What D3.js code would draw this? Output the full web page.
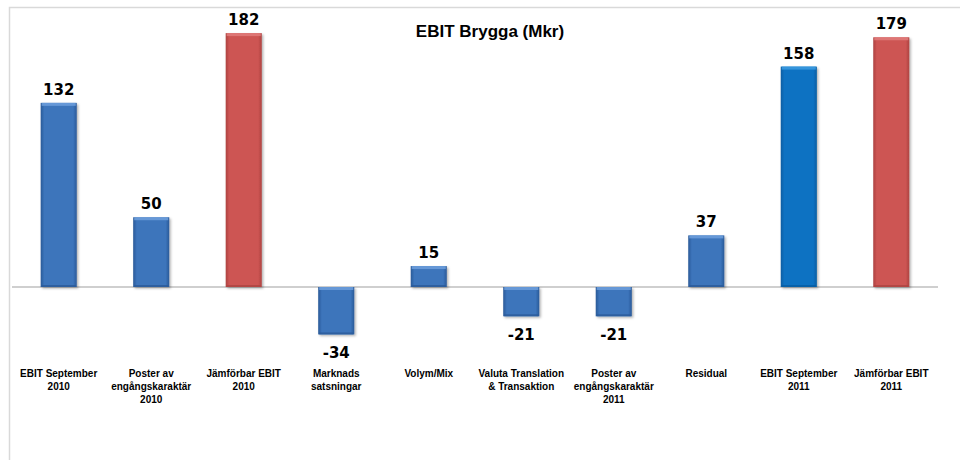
<!DOCTYPE html>
<html>
<head>
<meta charset="utf-8">
<script src="https://cdn.jsdelivr.net/npm/d3@7"></script>
<style>
  body { margin: 0; background: #fff; }
  svg { display: block; }
</style>
</head>
<body>
<svg id="chart" width="960" height="460"></svg>
<script>
// categories (line-wrapped as in the original)
const categories = [
  ["EBIT September", "2010"],
  ["Poster av", "engångskaraktär", "2010"],
  ["Jämförbar EBIT", "2010"],
  ["Marknads", "satsningar"],
  ["Volym/Mix"],
  ["Valuta Translation", "& Transaktion"],
  ["Poster av", "engångskaraktär", "2011"],
  ["Residual"],
  ["EBIT September", "2011"],
  ["Jämförbar EBIT", "2011"]
];
const values = [132, 50, 182, -34, 15, -21, -21, 37, 158, 179];
const kinds = ["blue", "blue", "red", "blue", "blue", "blue", "blue", "blue", "bright", "red"];

const palette = {
  blue:   { base: "#3c74bb", edge: "#2a5a98", top: "#6d9fdc" },
  bright: { base: "#0a72c2", edge: "#065da2", top: "#3d9be0" },
  red:    { base: "#cd5553", edge: "#ad4341", top: "#e07d7b" }
};

const svg = d3.select("#chart");
const labels = categories.map(c => c.join(" "));

const x = d3.scaleBand()
  .domain(labels)
  .range([12, 938])
  .paddingInner(0.61)
  .paddingOuter(0.31);

const y = d3.scaleLinear()
  .domain([-50, 200])
  .range([356.75, 8]);

// frame
svg.append("path")
  .attr("d", "M9.5,460 V7.5 H960")
  .attr("fill", "none")
  .attr("stroke", "#d9d9d9")
  .attr("stroke-width", 1.5);

const defs = svg.append("defs");
const shadow = defs.append("filter").attr("id", "shadow")
  .attr("x", "-20%").attr("y", "-10%").attr("width", "150%").attr("height", "130%");
shadow.append("feDropShadow")
  .attr("dx", 1.5).attr("dy", 1.5).attr("stdDeviation", 1.2)
  .attr("flood-color", "#000").attr("flood-opacity", 0.3);

Object.entries(palette).forEach(([k, c]) => {
  const g = defs.append("linearGradient").attr("id", "grad-" + k)
    .attr("x1", "0%").attr("x2", "100%").attr("y1", "0%").attr("y2", "0%");
  [[0, c.edge], [0.1, c.base], [0.9, c.base], [1, c.edge]].forEach(([o, col]) => {
    g.append("stop").attr("offset", o).attr("stop-color", col);
  });
});

// zero line
svg.append("line")
  .attr("x1", 12).attr("x2", 938)
  .attr("y1", y(0)).attr("y2", y(0))
  .attr("stroke", "#bfbfbf")
  .attr("stroke-width", 1.5);

const data = labels.map((l, i) => ({ label: l, lines: categories[i], value: values[i], kind: kinds[i] }));

const bars = svg.append("g").selectAll("g")
  .data(data)
  .join("g");

bars.append("rect")
  .attr("x", d => x(d.label))
  .attr("y", d => y(Math.max(0, d.value)))
  .attr("width", x.bandwidth())
  .attr("height", d => Math.abs(y(d.value) - y(0)))
  .attr("fill", d => `url(#grad-${d.kind})`)
  .attr("filter", "url(#shadow)");

// top bevel highlight
bars.append("rect")
  .attr("x", d => x(d.label) + 1)
  .attr("y", d => y(Math.max(0, d.value)))
  .attr("width", x.bandwidth() - 2)
  .attr("height", 3)
  .attr("fill", d => palette[d.kind].top)
  .attr("opacity", 0.85);

// bottom bevel shade
bars.append("rect")
  .attr("x", d => x(d.label) + 1)
  .attr("y", d => y(Math.min(0, d.value)) - 2)
  .attr("width", x.bandwidth() - 2)
  .attr("height", 2)
  .attr("fill", d => palette[d.kind].edge)
  .attr("opacity", 0.8);

// value labels
bars.append("text")
  .attr("x", d => x(d.label) + x.bandwidth() / 2)
  .attr("y", d => d.value >= 0 ? y(d.value) - 8 : y(d.value) + 24)
  .attr("text-anchor", "middle")
  .style("font-family", "'DejaVu Sans', Verdana, sans-serif")
  .style("font-weight", "bold")
  .style("font-size", "15px")
  .attr("fill", "#000")
  .text(d => d.value);

// category labels
const cat = svg.append("g")
  .style("font-family", "'Liberation Sans', Arial, sans-serif")
  .style("font-weight", "bold")
  .style("font-size", "10px");

data.forEach(d => {
  const t = cat.append("text")
    .attr("x", x(d.label) + x.bandwidth() / 2)
    .attr("y", 377)
    .attr("text-anchor", "middle")
    .attr("fill", "#000");
  d.lines.forEach((ln, i) => {
    t.append("tspan")
      .attr("x", x(d.label) + x.bandwidth() / 2)
      .attr("dy", i === 0 ? 0 : 13)
      .text(ln);
  });
});

// title
svg.append("text")
  .attr("x", 490)
  .attr("y", 37)
  .attr("text-anchor", "middle")
  .style("font-family", "'Liberation Sans', Arial, sans-serif")
  .style("font-weight", "bold")
  .style("font-size", "17px")
  .attr("fill", "#000")
  .text("EBIT Brygga (Mkr)");
</script>
</body>
</html>
